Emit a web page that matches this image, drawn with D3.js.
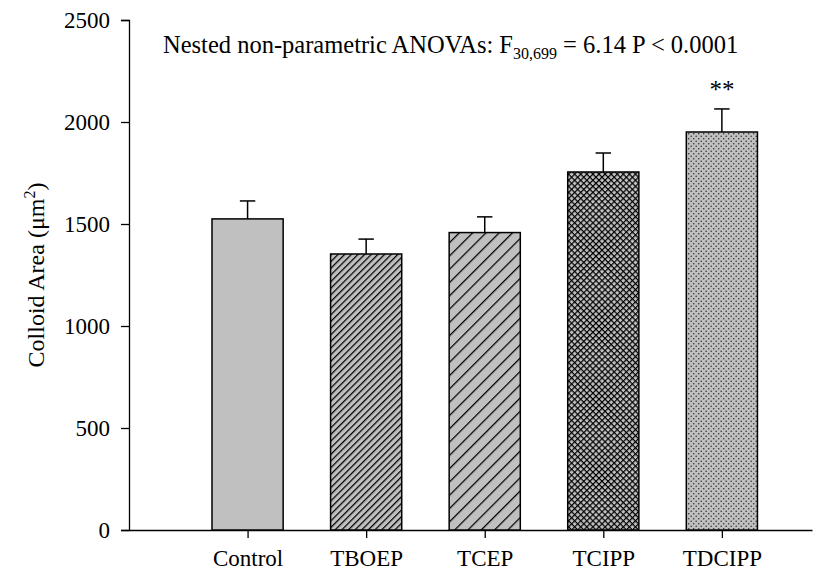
<!DOCTYPE html>
<html>
<head>
<meta charset="utf-8">
<script src="https://cdn.jsdelivr.net/npm/d3@7"></script>
<style>
  html, body { margin: 0; padding: 0; background: #fff; }
  svg { display: block; }
  text { font-family: "Liberation Serif", "Times New Roman", serif; fill: #000; }
</style>
</head>
<body>
<svg id="chart" width="828" height="577"></svg>
<script>
const categories = ["Control", "TBOEP", "TCEP", "TCIPP", "TDCIPP"];
const means = [1525, 1353, 1458, 1755, 1951];
const errors = [88, 73, 77, 93, 113];
const yTicks = [0, 500, 1000, 1500, 2000, 2500];
const patterns = ["solid", "hatchDense", "hatchSparse", "crosshatch", "dots"];
const significance = ["", "", "", "", "**"];

const svg = d3.select("#chart");
const margin = { left: 129, right: 16, top: 20, bottom: 47 };
const W = 828, H = 577;

const x = d3.scaleLinear().domain([0, 5.76]).range([margin.left, W - margin.right]);
const y = d3.scaleLinear().domain([0, 2500]).range([H - margin.bottom, margin.top]);
const barW = 0.6;
const gray = "#c0c0c0";

// patterns
const defs = svg.append("defs");
function pat(id, size, rot) {
  const p = defs.append("pattern").attr("id", id).attr("patternUnits", "userSpaceOnUse")
    .attr("width", size).attr("height", size);
  if (rot) p.attr("patternTransform", `rotate(${rot})`);
  p.append("rect").attr("width", size).attr("height", size).attr("fill", gray);
  return p;
}
let p1 = pat("hatchDense", 4.7, 45);
p1.append("line").attr("x1", 0.6).attr("x2", 0.6).attr("y1", 0).attr("y2", 4.7).attr("stroke", "#000").attr("stroke-width", 1.3);
let p2 = pat("hatchSparse", 9.4, 45);
p2.append("line").attr("x1", 0.6).attr("x2", 0.6).attr("y1", 0).attr("y2", 9.4).attr("stroke", "#000").attr("stroke-width", 1.3);
let p3 = pat("crosshatch", 4.3, 45);
p3.append("line").attr("x1", 0).attr("x2", 0).attr("y1", 0).attr("y2", 4.3).attr("stroke", "#000").attr("stroke-width", 2.4);
p3.append("line").attr("x1", 0).attr("x2", 4.3).attr("y1", 0).attr("y2", 0).attr("stroke", "#000").attr("stroke-width", 2.4);
let p4 = pat("dots", 5);
p4.append("circle").attr("cx", 1.2).attr("cy", 1.2).attr("r", 0.8).attr("fill", "#333");
p4.append("circle").attr("cx", 3.7).attr("cy", 3.7).attr("r", 0.8).attr("fill", "#333");

// axes
const yAxis = d3.axisLeft(y).tickValues(yTicks).tickSize(8).tickSizeOuter(8).tickPadding(11).tickFormat(d3.format("d"));
const gy = svg.append("g").attr("transform", `translate(${margin.left},0)`).call(yAxis);

const xAxis = d3.axisBottom(x).tickValues(categories.map((c, i) => i + 1))
  .tickFormat((d) => categories[d - 1]).tickSize(8).tickSizeOuter(0).tickPadding(12);
const gx = svg.append("g").attr("transform", `translate(0,${y(0)})`).call(xAxis);

[gx, gy].forEach(g => {
  g.selectAll("path.domain").attr("stroke", "#000").attr("stroke-width", 1.3);
  g.selectAll(".tick line").attr("stroke", "#000").attr("stroke-width", 1.3);
  g.selectAll(".tick text").style("font-size", "23px").attr("font-family", null);
});

// bars
const data = categories.map((c, i) => ({ c, i, m: means[i], e: errors[i], p: patterns[i], s: significance[i] }));
const bars = svg.append("g");
bars.selectAll("rect").data(data).join("rect")
  .attr("x", d => x(d.i + 1 - barW / 2))
  .attr("width", d => x(d.i + 1 + barW / 2) - x(d.i + 1 - barW / 2))
  .attr("y", d => y(d.m))
  .attr("height", d => y(0) - y(d.m))
  .attr("fill", d => d.p === "solid" ? gray : `url(#${d.p})`)
  .attr("stroke", "#000").attr("stroke-width", 1.5);

// error bars
const eb = svg.append("g").attr("stroke", "#000").attr("stroke-width", 1.5);
eb.selectAll("line.v").data(data).join("line").attr("class", "v")
  .attr("x1", d => x(d.i + 1)).attr("x2", d => x(d.i + 1))
  .attr("y1", d => y(d.m)).attr("y2", d => y(d.m + d.e));
eb.selectAll("line.c").data(data).join("line").attr("class", "c")
  .attr("x1", d => x(d.i + 1 - 0.065)).attr("x2", d => x(d.i + 1 + 0.065))
  .attr("y1", d => y(d.m + d.e)).attr("y2", d => y(d.m + d.e));

// significance
svg.append("g").selectAll("text").data(data.filter(d => d.s)).join("text")
  .attr("x", d => x(d.i + 1)).attr("y", d => y(d.m + d.e) - 11)
  .attr("text-anchor", "middle").style("font-size", "25px").text(d => d.s);

// y label
const yl = svg.append("text").attr("transform", `translate(44,${y(1250)}) rotate(-90)`)
  .attr("text-anchor", "middle").style("font-size", "24px");
yl.append("tspan").text("Colloid Area (μm");
yl.append("tspan").attr("dy", -9).style("font-size", "16px").text("2");
yl.append("tspan").attr("dy", 9).text(")");

// annotation
const an = svg.append("text").attr("x", 163).attr("y", 53).style("font-size", "24.5px");
an.append("tspan").text("Nested non-parametric ANOVAs: F");
an.append("tspan").attr("dy", 6).style("font-size", "16px").text("30,699");
an.append("tspan").attr("dy", -6).text(" = 6.14 P < 0.0001");
</script>
</body>
</html>
